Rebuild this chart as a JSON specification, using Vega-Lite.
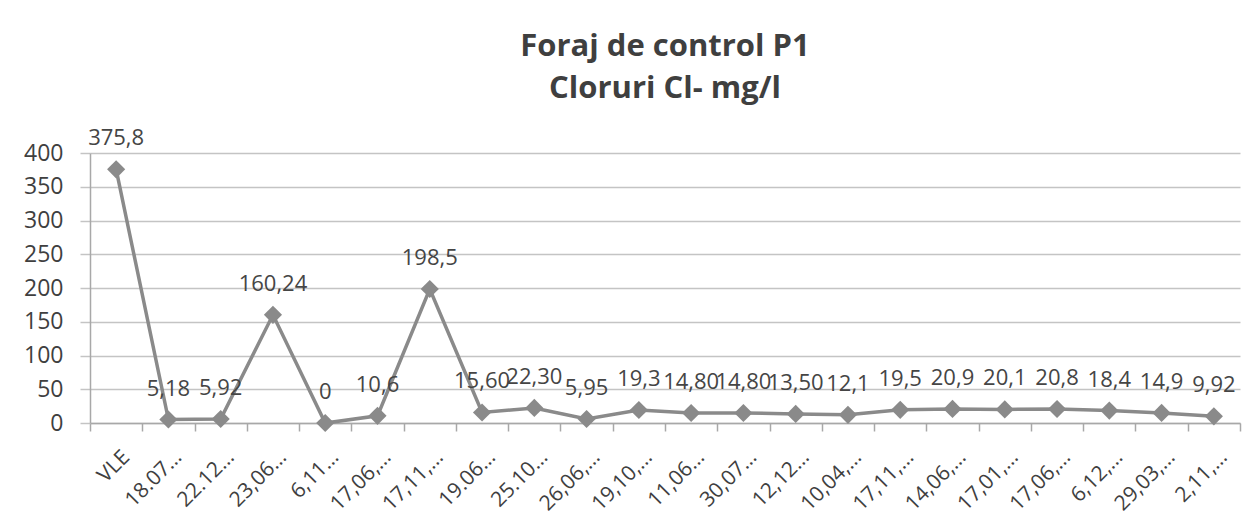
{
  "$schema": "https://vega.github.io/schema/vega-lite/v6.json",
  "width": 1150,
  "height": 270,
  "autosize": "none",
  "padding": {"left": 90, "top": 153, "right": 19, "bottom": 101},
  "background": "white",
  "title": {
    "text": ["Foraj de control P1", "Cloruri Cl- mg/l"],
    "font": "Open Sans",
    "fontSize": 31,
    "fontWeight": "bold",
    "color": "#3f3f3f",
    "anchor": "middle",
    "frame": "group",
    "offset": 22,
    "lineHeight": 42
  },
  "data": {
    "values": [
      {"cat": "VLE", "v": 375.8, "lbl": "375,8"},
      {"cat": "18.07…", "v": 5.18, "lbl": "5,18"},
      {"cat": "22.12…", "v": 5.92, "lbl": "5,92"},
      {"cat": "23,06…", "v": 160.24, "lbl": "160,24"},
      {"cat": "6,11…", "v": 0, "lbl": "0"},
      {"cat": "17,06,…", "v": 10.6, "lbl": "10,6"},
      {"cat": "17,11,…", "v": 198.5, "lbl": "198,5"},
      {"cat": "19.06…", "v": 15.6, "lbl": "15,60"},
      {"cat": "25.10…", "v": 22.3, "lbl": "22,30"},
      {"cat": "26,06,…", "v": 5.95, "lbl": "5,95"},
      {"cat": "19,10,…", "v": 19.3, "lbl": "19,3"},
      {"cat": "11,06…", "v": 14.8, "lbl": "14,80"},
      {"cat": "30,07…", "v": 14.8, "lbl": "14,80"},
      {"cat": "12,12…", "v": 13.5, "lbl": "13,50"},
      {"cat": "10,04,…", "v": 12.1, "lbl": "12,1"},
      {"cat": "17,11,…\u200b", "v": 19.5, "lbl": "19,5"},
      {"cat": "14,06,…", "v": 20.9, "lbl": "20,9"},
      {"cat": "17,01,…", "v": 20.1, "lbl": "20,1"},
      {"cat": "17,06,…\u200b", "v": 20.8, "lbl": "20,8"},
      {"cat": "6,12,…", "v": 18.4, "lbl": "18,4"},
      {"cat": "29,03,…", "v": 14.9, "lbl": "14,9"},
      {"cat": "2,11,…", "v": 9.92, "lbl": "9,92"}
    ]
  },
  "encoding": {
    "x": {
      "field": "cat",
      "type": "nominal",
      "sort": null,
      "bandPosition": 0.5,
      "scale": {"type": "band", "paddingInner": 0, "paddingOuter": 0},
      "axis": {
        "title": null,
        "grid": false,
        "tickBand": "extent",
        "labelAngle": -45,
        "labelFont": "Open Sans",
        "labelFontSize": 21,
        "labelColor": "#3f3f3f",
        "labelPadding": 15,
        "labelOffset": 2,
        "tickSize": 8,
        "tickColor": "#a8a8a8",
        "tickWidth": 1.5,
        "domainColor": "#a8a8a8",
        "domainWidth": 1.5
      }
    },
    "y": {
      "field": "v",
      "type": "quantitative",
      "scale": {"domain": [0, 400], "nice": false, "zero": true},
      "axis": {
        "title": null,
        "values": [0, 50, 100, 150, 200, 250, 300, 350, 400],
        "grid": true,
        "gridColor": "#c4c4c4",
        "gridWidth": 1.5,
        "tickSize": 10,
        "tickColor": "#c4c4c4",
        "tickWidth": 1.5,
        "domainColor": "#a8a8a8",
        "domainWidth": 1.5,
        "labelFont": "Open Sans",
        "labelFontSize": 23,
        "labelColor": "#3f3f3f",
        "labelPadding": 17
      }
    }
  },
  "layer": [
    {"mark": {"type": "line", "color": "#8a8a8a", "strokeWidth": 3.5}},
    {"mark": {"type": "point", "shape": "diamond", "filled": true, "size": 330, "color": "#8a8a8a", "opacity": 1}},
    {
      "mark": {"type": "text", "font": "Open Sans", "fontSize": 22, "color": "#454545", "baseline": "alphabetic", "dy": -24},
      "encoding": {"text": {"field": "lbl"}}
    }
  ],
  "config": {"view": {"stroke": null}}
}
